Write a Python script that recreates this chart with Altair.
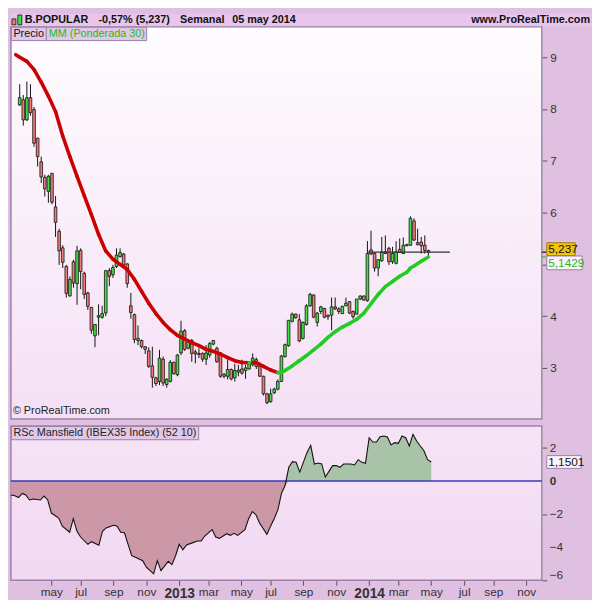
import altair as alt
import pandas as pd

FONT = "Liberation Sans"

# ---------------- data ----------------
first_week = "2012-02-27"

open_ = [8.08, 8.18, 7.79, 8.22, 7.99, 7.44, 6.98, 6.68, 6.41, 6.76,
         6.11, 5.64, 5.32, 4.96, 4.39, 5.05, 4.63, 5.27, 4.83, 4.45,
         4.17, 3.62, 3.98, 3.98, 4.06, 4.88, 4.80, 4.96, 5.15, 5.20,
         5.01, 4.20, 4.03, 3.53, 3.53, 3.41, 3.33, 3.04, 2.81, 2.74,
         3.17, 2.68, 2.74, 3.11, 2.87, 3.29, 3.72, 3.38, 3.53, 3.31,
         3.28, 3.28, 3.17, 3.25, 3.46, 3.38, 3.29, 2.84, 2.84, 2.97,
         2.81, 2.92, 2.98, 2.95, 2.98, 3.06, 3.16, 3.03, 2.84, 2.50,
         2.35, 2.52, 2.59, 2.74, 3.22, 3.43, 3.90, 4.04, 3.93, 3.57,
         3.84, 4.20, 4.41, 3.88, 4.09, 4.15, 4.02, 4.02, 4.18, 4.14,
         4.05, 4.20, 4.28, 4.09, 4.04, 4.33, 4.39, 4.30, 5.28, 5.21,
         4.93, 5.07, 5.24, 5.31, 5.05, 5.02, 5.29, 5.21, 5.36, 5.37,
         5.84, 5.42, 5.43, 5.37, 5.27]
high_ = [8.48, 8.27, 8.53, 8.48, 8.04, 7.44, 7.08, 6.73, 6.73, 6.76,
         6.32, 5.69, 5.37, 4.99, 4.77, 5.09, 5.36, 5.31, 4.86, 4.47,
         4.18, 3.84, 4.23, 4.20, 4.88, 4.93, 4.99, 5.31, 5.31, 5.22,
         5.02, 4.45, 4.05, 3.82, 3.55, 3.42, 3.40, 3.41, 2.83, 3.35,
         3.22, 2.80, 3.15, 3.12, 3.27, 3.91, 3.75, 3.56, 3.56, 3.35,
         3.38, 3.30, 3.44, 3.50, 3.53, 3.41, 3.30, 2.90, 3.16, 2.99,
         3.08, 3.06, 3.16, 3.06, 3.10, 3.28, 3.20, 3.11, 2.85, 2.52,
         2.60, 2.62, 2.78, 3.25, 3.47, 3.92, 4.07, 4.05, 4.04, 3.90,
         4.23, 4.45, 4.42, 4.08, 4.20, 4.16, 4.03, 4.36, 4.36, 4.17,
         4.20, 4.36, 4.29, 4.11, 4.33, 4.40, 4.40, 5.45, 5.65, 5.23,
         5.10, 5.53, 5.56, 5.34, 5.34, 5.45, 5.50, 5.52, 5.40, 5.93,
         5.89, 5.69, 5.53, 5.56, 5.28]
low_ = [8.06, 7.68, 7.77, 7.87, 7.27, 6.89, 6.57, 6.31, 6.19, 6.16,
        5.53, 4.99, 4.93, 4.36, 4.38, 4.55, 4.22, 4.52, 4.33, 4.12,
        3.66, 3.40, 3.63, 3.95, 4.00, 4.58, 4.74, 4.93, 5.13, 4.93,
        4.55, 3.95, 3.48, 3.44, 3.38, 3.27, 3.00, 2.62, 2.65, 2.67,
        2.65, 2.62, 2.72, 2.87, 2.84, 3.25, 3.33, 3.36, 3.12, 3.09,
        3.19, 3.12, 3.06, 3.20, 3.44, 3.10, 2.81, 2.80, 2.78, 2.76,
        2.74, 2.84, 2.87, 2.79, 2.97, 3.03, 2.98, 2.83, 2.47, 2.30,
        2.33, 2.50, 2.57, 2.73, 3.20, 3.41, 3.88, 3.95, 3.50, 3.55,
        3.82, 4.18, 3.96, 3.80, 4.04, 3.96, 3.93, 3.73, 4.12, 4.04,
        4.04, 4.19, 4.04, 3.95, 4.03, 4.31, 4.30, 4.28, 5.18, 4.86,
        4.77, 5.05, 5.20, 4.99, 5.01, 5.00, 5.22, 5.20, 5.35, 5.36,
        5.45, 5.37, 5.21, 5.21, 5.13]
close_ = [8.22, 7.79, 8.22, 7.93, 7.34, 7.08, 6.69, 6.46, 6.70, 6.20,
          5.81, 5.26, 5.04, 4.44, 4.71, 4.64, 5.26, 4.86, 4.42, 4.19,
          3.73, 3.84, 4.01, 4.05, 4.88, 4.77, 4.94, 5.18, 5.23, 4.99,
          4.63, 4.07, 3.55, 3.57, 3.41, 3.36, 3.03, 2.82, 2.70, 3.19,
          2.71, 2.78, 3.11, 2.89, 3.25, 3.71, 3.36, 3.53, 3.28, 3.27,
          3.26, 3.17, 3.29, 3.47, 3.53, 3.12, 2.84, 2.88, 2.97, 2.79,
          2.95, 2.96, 2.90, 3.00, 3.09, 3.19, 3.03, 2.84, 2.50, 2.33,
          2.50, 2.59, 2.74, 3.23, 3.45, 3.92, 4.04, 3.97, 3.52, 3.88,
          4.20, 4.42, 3.98, 4.06, 4.18, 3.98, 3.99, 4.18, 4.14, 4.09,
          4.19, 4.25, 4.06, 3.99, 4.33, 4.39, 4.31, 5.21, 5.20, 4.93,
          5.09, 5.24, 5.21, 5.05, 5.21, 5.24, 5.23, 5.37, 5.38, 5.89,
          5.47, 5.38, 5.36, 5.27, 5.237]

# weighted moving average (30) at these weeks
ma_week = [-1.1, 0, 2, 4, 6, 8, 10, 12, 14, 16, 18, 20, 22, 24, 26, 28, 30,
           32, 34, 36, 38, 40, 42, 44, 46, 48, 50, 52, 54, 56, 58, 60, 62,
           64, 65, 66, 68, 70, 72, 73, 74, 76, 78, 80, 82, 84, 86, 88, 90,
           92, 94, 96, 98, 100, 102, 104, 106, 108, 109, 110, 112, 114]
ma_value = [9.05, 9.00, 8.92, 8.76, 8.52, 8.25, 7.95, 7.48, 7.08, 6.70,
            6.33, 5.96, 5.58, 5.26, 5.10, 5.00, 4.90, 4.71, 4.48, 4.25,
            4.05, 3.88, 3.74, 3.63, 3.56, 3.49, 3.43, 3.36, 3.32, 3.27,
            3.20, 3.14, 3.105, 3.10, 3.105, 3.10, 3.03, 2.96, 2.91, 2.915,
            2.95, 3.04, 3.14, 3.24, 3.35, 3.46, 3.59, 3.70, 3.79, 3.86,
            3.94, 4.06, 4.24, 4.42, 4.57, 4.67, 4.77, 4.85, 4.93, 4.97,
            5.06, 5.1429]

# RSc Mansfield (IBEX35 Index) (52 10)
rsc_week = [-1.1, 0, 1, 2, 3, 4, 5, 7, 8, 9, 10, 12, 13, 15, 16, 17, 18, 20,
            21, 23, 24, 25, 27, 28, 29, 30, 31, 32, 33, 35, 36, 38, 39, 40,
            42, 43, 44, 45, 46, 47, 48, 50, 51, 52, 54, 55, 56, 58, 59, 60,
            61, 63, 64, 65, 66, 67, 69, 70, 71, 72, 73, 74, 75, 76, 77, 78,
            80, 81, 82, 83, 84, 85, 86, 87, 88, 89, 90, 92, 93, 94, 95, 96,
            97, 98, 99, 100, 101, 102, 103, 104, 105, 106, 107, 108, 109,
            110, 111, 112, 113, 114]
rsc_value = [-0.85, -0.89, -1.00, -0.75, -0.85, -1.15, -1.09, -1.15, -0.91,
             -1.15, -1.94, -2.24, -2.74, -3.10, -2.28, -3.04, -3.39, -3.83,
             -3.67, -3.89, -3.04, -2.84, -2.68, -2.74, -3.10, -3.13, -3.83,
             -4.52, -4.62, -4.82, -5.22, -5.62, -4.82, -5.42, -4.86, -5.06,
             -4.52, -3.83, -4.17, -3.87, -3.79, -3.63, -3.63, -3.33, -2.94,
             -3.39, -3.47, -3.19, -3.29, -3.17, -3.29, -2.94, -2.28, -1.85,
             -2.04, -2.54, -3.23, -2.74, -2.28, -1.75, -0.75, -0.26, 0.83,
             1.17, 1.13, 0.54, 1.73, 2.16, 1.03, 1.09, 1.03, 0.24, 0.58,
             0.93, 0.93, 0.83, 1.03, 1.03, 0.97, 1.29, 1.13, 1.07, 2.62,
             2.36, 2.36, 2.68, 2.72, 2.66, 2.18, 2.32, 2.28, 2.72, 2.62,
             2.12, 2.82, 2.42, 2.12, 1.83, 1.29, 1.1501]

last_close = 5.237
last_ma = 5.1429
last_rsc = 1.1501
close_line = ["2014-01-06", "2014-06-16"]

price_ticks = [3, 4, 5, 6, 7, 8, 9]
rsc_ticks = [-6, -5, -4, -3, -2, -1, 0, 1, 2, 3]
rsc_labels = [-4, -2, 2]
rsc_bold_label = [0]
rsc_bottom_label = [-6]
month_ticks = ["2012-05-07", "2012-07-02", "2012-09-03", "2012-11-05",
               "2013-01-07", "2013-03-04", "2013-05-06", "2013-07-01",
               "2013-09-02", "2013-11-04", "2014-01-06", "2014-03-03",
               "2014-05-05", "2014-07-07", "2014-09-01", "2014-11-03"]
month_names = ["ene", "feb", "mar", "abr", "may", "jun", "jul", "ago",
               "sep", "oct", "nov", "dic"]

header_parts = ["B.POPULAR", "-0,57% (5,237)", "Semanal", "05 may 2014"]

# ---------------- styling ----------------
W, H1, H2 = 540, 399, 157
BG_AXIS = "#e0c0e0"
HEADER = "#e8c6ec"
BORDER = "#9c80aa"
BOX = "#e2c8e7"
RED_MA = "#cc0000"
GREEN_MA = "#22cc22"
UP = "#44e044"
DOWN = "#f07a7a"

base = pd.Timestamp(first_week)


def wk(i):
    return (base + pd.Timedelta(days=7 * i)).strftime("%Y-%m-%dT%H:%M:%S")


def dt(s):
    t = pd.Timestamp(s)
    return alt.DateTime(year=t.year, month=t.month, date=t.day)


n = len(open_)
candles = pd.DataFrame({
    "date": [wk(i) for i in range(n)],
    "open": open_, "high": high_, "low": low_, "close": close_,
})
candles["fillc"] = [UP if c >= o else DOWN for o, c in zip(open_, close_)]

seg = pd.DataFrame({
    "d1": [wk(w) for w in ma_week[:-1]],
    "d2": [wk(w) for w in ma_week[1:]],
    "v1": ma_value[:-1],
    "v2": ma_value[1:],
})
seg["col"] = [GREEN_MA if b > a else RED_MA for a, b in zip(ma_value[:-1], ma_value[1:])]

rsc = pd.DataFrame({"date": [wk(w) for w in rsc_week], "v": rsc_value})
rsc["neg"] = rsc["v"].clip(upper=0)
rsc["pos"] = rsc["v"].clip(lower=0)

one = pd.DataFrame({"k": [0]})

x_scale = alt.Scale(domain=[alt.DateTime(year=2012, month=2, date=19, hours=12),
                            alt.DateTime(year=2014, month=12, date=3)])
y_scale = alt.Scale(domain=[2.013, 9.588], nice=False, zero=False)
r_scale = alt.Scale(domain=[-6.01, 3.33], nice=False, zero=False)

y_axis = alt.Axis(orient="right", values=price_ticks, tickSize=5, tickColor="#555",
                  labelColor="#333", labelFontSize=12, labelFont=FONT, labelPadding=3,
                  labelExpr="datum.value == 5 ? '' : datum.label", labelOverlap=False,
                  domain=False, grid=False, title=None)
r_axis = alt.Axis(orient="right", values=rsc_ticks, tickSize=5, tickColor="#555",
                  labels=False, domain=False, grid=False, title=None)
names_js = "[" + ",".join("'%s'" % m for m in month_names) + "]"
x_axis = alt.Axis(values=[dt(s) for s in month_ticks], tickSize=5, tickColor="#555",
                  labelColor="#333", labelFont=FONT, labelPadding=1, labelAngle=0,
                  labelOverlap=False, labelFlush=False, domain=False, grid=False, title=None,
                  labelExpr="month(datum.value) == 0 ? timeFormat(datum.value, '%Y') : "
                            + names_js + "[month(datum.value)]",
                  labelFontWeight=alt.condition("month(datum.value) == 0", alt.value("bold"), alt.value("normal")),
                  labelFontSize=alt.condition("month(datum.value) == 0", alt.value(14), alt.value(12)))


def X(field):
    return alt.X(field, type="temporal", scale=x_scale, axis=None, title=None)


def Y(field):
    return alt.Y(field, type="quantitative", scale=y_scale, axis=y_axis, title=None)


def R(field):
    return alt.Y(field, type="quantitative", scale=r_scale, axis=r_axis, title=None)


grad_main = alt.LinearGradient(gradient="linear", x1=0, x2=0, y1=0, y2=1,
                               stops=[alt.GradientStop(color="#fefcfe", offset=0),
                                      alt.GradientStop(color="#f5e0f5", offset=1)])
grad_low = alt.LinearGradient(gradient="linear", x1=0, x2=0, y1=0, y2=1,
                              stops=[alt.GradientStop(color="#f6e4f6", offset=0),
                                     alt.GradientStop(color="#f2d9f2", offset=1)])


def box(x1, x2, y1, y2, fill, stroke=BORDER):
    return alt.Chart(one).mark_rect(fill=fill, stroke=stroke, strokeWidth=1).encode(
        x=alt.value(x1), x2=alt.value(x2), y=alt.value(y1), y2=alt.value(y2))


def label(txt, x, y, size=11, weight="normal", color="#111", align="left"):
    return alt.Chart(one).mark_text(text=txt, font=FONT, fontSize=size, fontWeight=weight,
                                    color=color, align=align, baseline="middle").encode(
        x=alt.value(x), y=alt.value(y))


# ---------------- main panel ----------------
bg_main = alt.Chart(one).mark_rect(fill=grad_main, stroke=BORDER, strokeWidth=1.5).encode(
    x=alt.value(0), x2=alt.value(W), y=alt.value(0), y2=alt.value(H1))
header_band = alt.Chart(one).mark_rect(fill=HEADER).encode(
    x=alt.value(0), x2=alt.value(590), y=alt.value(-13), y2=alt.value(-0.5))

wicks = alt.Chart(candles).mark_rule(color="#111", strokeWidth=1).encode(
    x=X("date"), y=Y("low"), y2="high")
bodies = alt.Chart(candles).mark_bar(size=2.7, stroke="#111", strokeWidth=0.8).encode(
    x=X("date"), y=Y("open"), y2="close", fill=alt.Fill("fillc:N", scale=None))
ma = alt.Chart(seg).mark_rule(strokeWidth=3.6, strokeCap="round").encode(
    x=X("d1"), x2="d2", y=Y("v1"), y2="v2", color=alt.Color("col:N", scale=None))
cl = alt.Chart(pd.DataFrame({"d1": [close_line[0] + "T00:00:00"],
                             "d2": [close_line[1] + "T00:00:00"],
                             "p": [last_close]})).mark_rule(color="#333", strokeWidth=1.2).encode(
    x=X("d1"), x2="d2", y=Y("p"))

tag_df = pd.DataFrame({"p": [last_close]})
ma_df = pd.DataFrame({"p": [last_ma]})
tick_close = alt.Chart(tag_df).mark_rule(color="#111", strokeWidth=1.2).encode(
    x=alt.value(W), x2=alt.value(W + 5), y=Y("p"))
tick_ma = alt.Chart(ma_df).mark_rule(color=GREEN_MA, strokeWidth=1.2).encode(
    x=alt.value(W), x2=alt.value(W + 5), y=Y("p"))
tag_close_box = alt.Chart(tag_df).mark_rect(fill="#f4c30e", stroke="#9a7a10", strokeWidth=1,
                                            yOffset=-9.5, y2Offset=3.5).encode(
    x=alt.value(W + 5), x2=alt.value(W + 34), y=Y("p"), y2="p")
tag_close_txt = alt.Chart(tag_df).mark_text(text="5,237", font=FONT, fontSize=12, color="#111",
                                            align="left", baseline="middle", dy=-3).encode(
    x=alt.value(W + 6.5), y=Y("p"))
tag_ma_box = alt.Chart(ma_df).mark_rect(fill="#fbf2fb", stroke=BORDER, strokeWidth=1,
                                        yOffset=-1, y2Offset=13).encode(
    x=alt.value(W + 5), x2=alt.value(W + 41), y=Y("p"), y2="p")
tag_ma_txt = alt.Chart(ma_df).mark_text(text="5,1429", font=FONT, fontSize=12, color="#22bb22",
                                        align="left", baseline="middle", dy=6).encode(
    x=alt.value(W + 6.5), y=Y("p"))

icon_red = alt.Chart(one).mark_rect(fill=DOWN, stroke="#111", strokeWidth=0.8).encode(
    x=alt.value(1), x2=alt.value(5), y=alt.value(-8), y2=alt.value(-2))
icon_green = alt.Chart(one).mark_rect(fill=UP, stroke="#111", strokeWidth=0.8).encode(
    x=alt.value(7), x2=alt.value(11), y=alt.value(-12), y2=alt.value(-2))

main = alt.layer(
    bg_main, header_band,
    wicks, bodies, ma, cl,
    tick_close, tick_ma, tag_close_box, tag_close_txt, tag_ma_box, tag_ma_txt,
    icon_red, icon_green,
    label(header_parts[0], 14, -6.5, 11, "bold"),
    label(header_parts[1], 89, -6.5, 11, "bold"),
    label(header_parts[2], 172, -6.5, 11, "bold"),
    label(header_parts[3], 225, -6.5, 11, "bold"),
    label("www.ProRealTime.com", 589, -6.5, 11, "bold", align="right"),
    box(0.5, 36, 0.5, 14, BOX), label("Precio", 2.5, 7.5, 11),
    box(36, 138, 0.5, 14, BOX), label("MM (Ponderada 30)", 38.5, 7.5, 11, color="#22bb22"),
    label("\u00a9 ProRealTime.com", 2, H1 - 8, 11, color="#222"),
).properties(width=W, height=H1)

# ---------------- RSc panel ----------------
bg_low = alt.Chart(one).mark_rect(fill=grad_low, stroke=BORDER, strokeWidth=1.5).encode(
    x=alt.value(0), x2=alt.value(W), y=alt.value(0), y2=alt.value(H2))
xa = alt.X("date", type="temporal", scale=x_scale, axis=x_axis, title=None)
area_neg = alt.Chart(rsc).mark_area(color="#cc98a8").encode(x=xa, y=R("neg"), y2=alt.datum(0))
area_pos = alt.Chart(rsc).mark_area(color="#a9c3a8").encode(x=xa, y=R("pos"), y2=alt.datum(0))
zero = alt.Chart(one).mark_rule(color="#3838c0", strokeWidth=1.3).encode(
    x=alt.value(0), x2=alt.value(W), y=alt.datum(0))
rline = alt.Chart(rsc).mark_line(color="#111", strokeWidth=1.1).encode(x=xa, y=R("v"))


def rlab(values, weight="normal", dy=0):
    return alt.Chart(pd.DataFrame({"t": values})).mark_text(
        font=FONT, fontSize=12, fontWeight=weight, color="#333", align="left",
        baseline="middle", dy=dy).encode(
        x=alt.value(W + 8), y=R("t"), text=alt.Text("t:Q", format="d"))


rsc_df = pd.DataFrame({"p": [last_rsc]})
rsc_box = alt.Chart(rsc_df).mark_rect(fill="#fbf2fb", stroke=BORDER, strokeWidth=1,
                                      yOffset=-6.5, y2Offset=6.5).encode(
    x=alt.value(W + 5), x2=alt.value(W + 40), y=R("p"), y2="p")
rsc_txt = alt.Chart(rsc_df).mark_text(text="1,1501", font=FONT, fontSize=12, color="#111",
                                      align="left", baseline="middle").encode(
    x=alt.value(W + 6.5), y=R("p"))

lower = alt.layer(
    bg_low, area_neg, area_pos, zero, rline,
    rlab(rsc_labels), rlab(rsc_bold_label, "bold"), rlab(rsc_bottom_label, dy=-5),
    rsc_box, rsc_txt,
    box(0.5, 191, 0.5, 14, BOX), label("RSc Mansfield (IBEX35 Index) (52 10)", 2.5, 7.5, 11, color="#222"),
).properties(width=W, height=H2)

chart = alt.vconcat(main, lower, spacing=3).properties(
    background=BG_AXIS, padding=0
).configure_view(stroke="transparent").configure(font=FONT)

chart.save("out.html", embed_options={"renderer": "svg", "actions": False})
